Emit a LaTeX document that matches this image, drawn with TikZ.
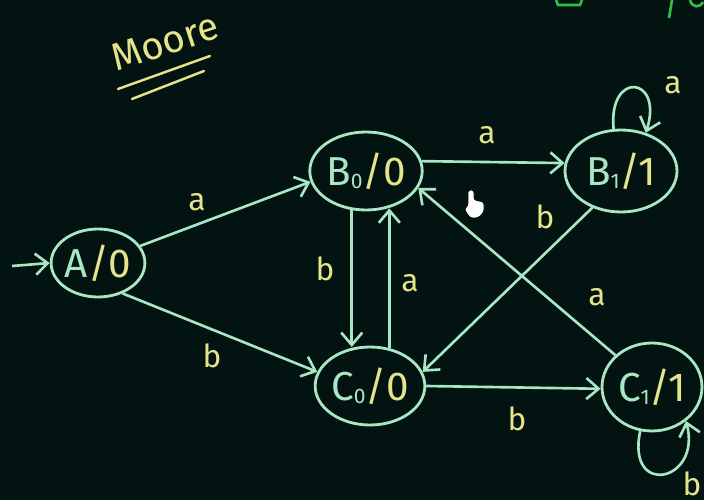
\documentclass[tikz,border=0pt]{standalone}
\usepackage{fontspec}
\setmainfont{Fira Sans}
\usetikzlibrary{shapes.geometric,arrows.meta}
\definecolor{bg}{HTML}{031311}
\definecolor{mint}{HTML}{A8E6C4}
\definecolor{yel}{HTML}{E6E48A}
\definecolor{grn}{HTML}{2FC044}
\newcommand{\lowsub}[1]{\raisebox{-2pt}{\fontsize{12}{12}\selectfont #1}}
\tikzset{
  state/.style={ellipse,draw=mint,line width=1.6pt,inner sep=0pt,text=mint,font=\fontsize{23}{23}\selectfont},
  tr/.style={draw=mint,line width=1.5pt,-{Straight Barb[length=7pt,width=12pt,line width=1.5pt]}},
  lab/.style={text=yel,font=\fontsize{18}{18}\selectfont,inner sep=0pt},
}
\begin{document}
\begin{tikzpicture}[x=0.02cm,y=-0.02cm]
\fill[bg] (0,0) rectangle (704,500);
\useasboundingbox (0,0) rectangle (704,500);
% title
\node[text=yel,font=\fontsize{22}{22}\selectfont,rotate=18,inner sep=0pt] (title) at (165,42) {Moore};
\draw[yel,line width=1.4pt,line cap=round] (118,89) -- (210,56);
\draw[yel,line width=1.4pt,line cap=round] (132,99) -- (204,71);
% partial green marks top right
\draw[grn,line width=1.5pt] (556,0) -- (558,5) -- (580,5) -- (582,0);
\draw[grn,line width=1.5pt] (672,0) -- (669,18);
\draw[grn,line width=1.5pt] (690,0) .. controls (692,8) and (700,8) .. (703,2);
% states
\node[state,minimum width=1.48cm,minimum height=1.36cm] (A) at (98,263) {A\textcolor{yel}{/0}};
\node[state,minimum width=1.84cm,minimum height=1.56cm] (B0) at (366,171) {B\lowsub{0}\textcolor{yel}{/0}};
\node[state,minimum width=1.72cm,minimum height=1.56cm] (C0) at (370,386) {C\lowsub{0}\textcolor{yel}{/0}};
\node[state,minimum width=2.24cm,minimum height=1.64cm] (B1) at (621,171) {B\lowsub{1}\textcolor{yel}{/1}};
\node[state,minimum width=2.0cm,minimum height=1.76cm] (C1) at (652,387) {C\lowsub{1}\textcolor{yel}{/1}};
\coordinate (start) at (12,266);
% transitions
\draw[tr] (start) -- (A.west);
\draw[tr] (A.22) -- (B0.191);
\draw[tr] (A.-51) -- (C0.165);
\draw[tr] (B0.250) -- (B0.250 |- C0.110);
\draw[tr] (C0.63) -- (C0.63 |- B0.300);
\draw[tr] (B0.10) -- (B1.172);
\draw[tr] (B1.232) -- (C0.15);
\draw[tr] (C1.139) -- (B0.-18);
\draw[tr] (C0.0) -- (C1.182);
\draw[tr] (B1.100) .. controls (608,70) and (664,76) .. (B1.57);
\draw[tr] (C1.255) .. controls (626,498) and (702,482) .. (C1.-45);
% labels
\node[lab] (l1) at (197,202) {a};
\node[lab] (l2) at (212,356) {b};
\node[lab] (l3) at (325,269) {b};
\node[lab] (l4) at (410,283) {a};
\node[lab] (l5) at (487,135) {a};
\node[lab] (l6) at (545,217) {b};
\node[lab] (l7) at (597,297) {a};
\node[lab] (l8) at (517,419) {b};
\node[lab] (l9) at (673,85) {a};
\node[lab] (l10) at (692,484) {b};
% cursor
\draw[black,fill=white,line width=0.4pt,rounded corners=1.5pt] (468,206) -- (468,190) -- (474,190) -- (474,200) -- (484,202) -- (484,212) -- (478,218) -- (470,218) -- (464,209) -- cycle;
\end{tikzpicture}
\end{document}
